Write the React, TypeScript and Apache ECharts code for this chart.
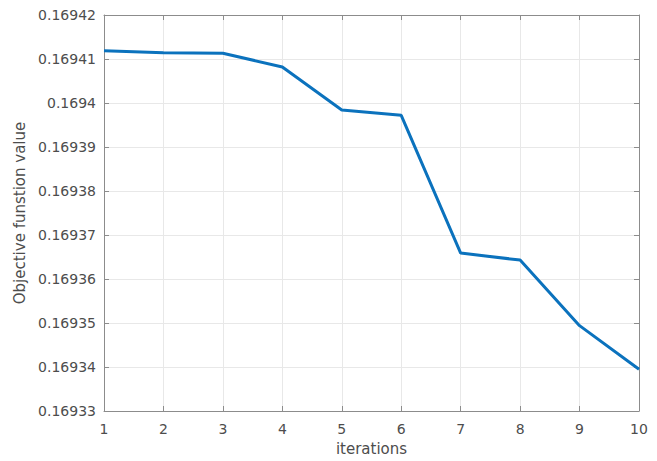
import React, { useEffect, useRef } from "react";
import * as echarts from "echarts";

const iterations = [1, 2, 3, 4, 5, 6, 7, 8, 9, 10];
const objectiveValues = [
  0.1694119, 0.1694114, 0.1694113, 0.1694082, 0.1693984, 0.1693972, 0.1693659,
  0.1693643, 0.1693494, 0.1693395,
];
const yMin = 0.16933;
const yMax = 0.16942;
const yStep = 0.00001;

const fmtY = (v: number) => String(parseFloat(v.toFixed(5)));

export default function App() {
  const ref = useRef<HTMLDivElement>(null);
  useEffect(() => {
    if (!ref.current) return;
    const chart = echarts.init(ref.current, undefined, { renderer: "svg" });
    const labelStyle = { color: "#4d4d4d", fontFamily: "DejaVu Sans, Arial, sans-serif", fontSize: 14 };
    const axisLineStyle = { color: "#8c8c8c", width: 1 };
    chart.setOption({
      animation: false,
      backgroundColor: "#ffffff",
      grid: { left: 104, right: 18, top: 15, bottom: 48, containLabel: false },
      xAxis: [
        {
          type: "value",
          min: 1,
          max: 10,
          interval: 1,
          position: "bottom",
          name: "iterations",
          nameLocation: "middle",
          nameGap: 30,
          nameTextStyle: { ...labelStyle, fontSize: 15 },
          axisLine: { show: true, lineStyle: axisLineStyle },
          axisTick: { show: true, inside: true, length: 5, lineStyle: axisLineStyle },
          axisLabel: { ...labelStyle, margin: 11 },
          splitLine: { show: true, lineStyle: { color: "#e8e8e8", width: 1 } },
        },
        {
          type: "value",
          min: 1,
          max: 10,
          interval: 1,
          position: "top",
          axisLine: { show: true, lineStyle: axisLineStyle },
          axisTick: { show: true, inside: true, length: 5, lineStyle: axisLineStyle },
          axisLabel: { show: false },
          splitLine: { show: false },
        },
      ],
      yAxis: [
        {
          type: "value",
          min: yMin,
          max: yMax,
          interval: yStep,
          position: "left",
          name: "Objective funstion value",
          nameLocation: "middle",
          nameGap: 76,
          nameTextStyle: { ...labelStyle, fontSize: 15 },
          axisLine: { show: true, lineStyle: axisLineStyle },
          axisTick: { show: true, inside: true, length: 5, lineStyle: axisLineStyle },
          axisLabel: { ...labelStyle, margin: 8, formatter: fmtY },
          splitLine: { show: true, lineStyle: { color: "#e8e8e8", width: 1 } },
        },
        {
          type: "value",
          min: yMin,
          max: yMax,
          interval: yStep,
          position: "right",
          axisLine: { show: true, lineStyle: axisLineStyle },
          axisTick: { show: true, inside: true, length: 5, lineStyle: axisLineStyle },
          axisLabel: { show: false },
          splitLine: { show: false },
        },
      ],
      series: [
        {
          type: "line",
          xAxisIndex: 0,
          yAxisIndex: 0,
          data: iterations.map((x, i) => [x, objectiveValues[i]]),
          showSymbol: false,
          symbol: "none",
          lineStyle: { color: "#0b72bd", width: 3 },
          itemStyle: { color: "#0b72bd" },
        },
      ],
    });
    return () => chart.dispose();
  }, []);
  return <div ref={ref} style={{ width: 657, height: 461, position: "absolute", left: 0, top: 0 }} />;
}
